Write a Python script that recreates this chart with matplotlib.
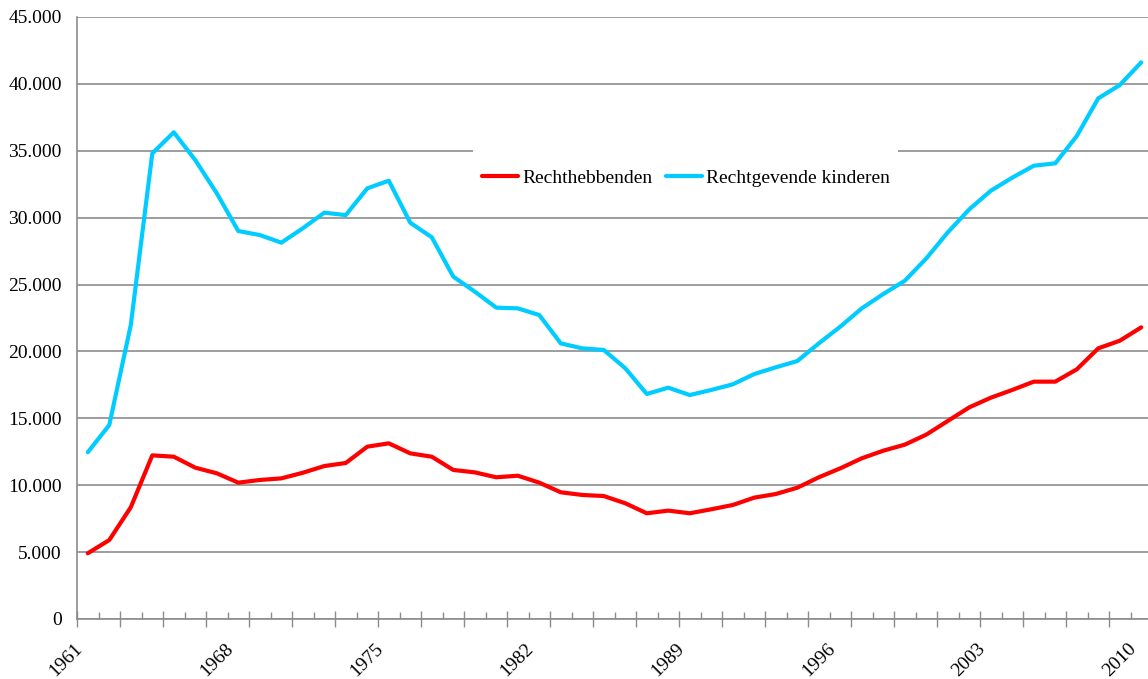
import numpy as np
import matplotlib.pyplot as plt
from matplotlib.ticker import FuncFormatter, MultipleLocator
from matplotlib.patches import Rectangle
import matplotlib.transforms as mtransforms

# years on the category axis
years = list(range(1961, 2011))

# Rechthebbenden (red line)
rechthebbenden = [4910, 5900, 8350, 12230, 12130, 11310, 10890, 10190, 10390, 10510,
                  10930, 11430, 11660, 12880, 13130, 12380, 12130, 11140, 10960, 10590,
                  10710, 10190, 9470, 9270, 9190, 8650, 7900, 8100, 7900, 8200,
                  8520, 9070, 9340, 9810, 10590, 11260, 12010, 12580, 13030, 13780,
                  14800, 15820, 16540, 17120, 17740, 17740, 18660, 20230, 20800, 21800]

# Rechtgevende kinderen (blue line)
kinderen = [12460, 14500, 21970, 34800, 36380, 34300, 31820, 29000, 28700, 28130,
            29200, 30370, 30190, 32190, 32760, 29620, 28530, 25590, 24470, 23270,
            23220, 22720, 20600, 20230, 20110, 18740, 16820, 17290, 16740, 17120,
            17540, 18310, 18810, 19280, 20600, 21850, 23220, 24290, 25280, 26950,
            28900, 30620, 32010, 32990, 33880, 34060, 36100, 38920, 39910, 41610]

label_years = [1961, 1968, 1975, 1982, 1989, 1996, 2003, 2010]

fig = plt.figure(figsize=(11.48, 6.79), dpi=100)
ax = fig.add_axes([0.0671, 0.0884, 0.9364, 0.8866])

x = np.arange(len(years))
ax.plot(x, rechthebbenden, color='#FF0000', lw=3, solid_capstyle='round', label='Rechthebbenden')
ax.plot(x, kinderen, color='#00CCFF', lw=3, solid_capstyle='round', label='Rechtgevende kinderen')

serif = 'Liberation Serif'

# y axis: 0 .. 45.000 with dutch thousands separator
ax.set_ylim(0, 45000)
ax.set_yticks(np.arange(0, 45001, 5000))
ax.yaxis.set_major_formatter(FuncFormatter(lambda v, p: '{:,.0f}'.format(v).replace(',', '.')))
ax.tick_params(axis='y', length=0, pad=11, labelsize=14)
ax.grid(axis='y', color='#8c8c8c', lw=1.2)
ax.set_axisbelow(True)

# x axis: categories, ticks between the categories
ax.set_xlim(-0.5, len(years) - 0.5)
ax.xaxis.set_major_locator(MultipleLocator(2, offset=-0.5))
ax.xaxis.set_minor_locator(MultipleLocator(2, offset=0.5))
ax.tick_params(axis='x', which='major', direction='inout', length=12, width=1, color='#8c8c8c', labelbottom=False)
ax.tick_params(axis='x', which='minor', direction='in', length=5, width=1, color='#8c8c8c')

# rotated year labels, every 7 years
shift = mtransforms.ScaledTranslation(-14 / 100, -21 / 100, fig.dpi_scale_trans)
for yr in label_years:
    i = years.index(yr)
    ax.text(i, 0, str(yr), rotation=45, ha='right', va='top', rotation_mode='anchor',
            fontsize=14, family=serif, transform=ax.transData + shift)

for lab in ax.get_yticklabels():
    lab.set_family(serif)

for side in ['top', 'right']:
    ax.spines[side].set_visible(False)
for side in ['left', 'bottom']:
    ax.spines[side].set_color('#8c8c8c')
    ax.spines[side].set_linewidth(1.2)

# white box of the legend area (hides the gridline behind it)
ax.add_patch(Rectangle((0.3684, 0.6877), 0.3953, 0.0947, transform=ax.transAxes,
                       facecolor='white', edgecolor='none', zorder=1.5))

leg = ax.legend(loc='center', bbox_to_anchor=(0.5665, 0.7326), ncol=2, frameon=False,
                prop={'family': serif, 'size': 14}, handlelength=1.85, handletextpad=0.2,
                columnspacing=0.7, borderpad=0.6)

plt.savefig('out.png', dpi=100)
